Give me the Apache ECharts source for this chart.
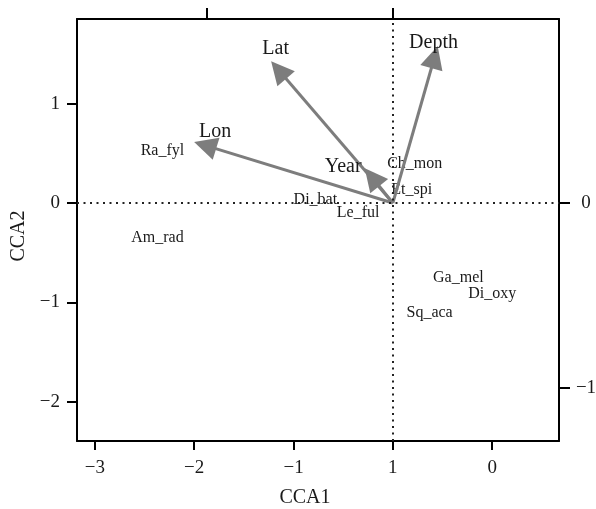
<!DOCTYPE html>
<html>
<head>
<meta charset="utf-8">
<script src="https://cdn.jsdelivr.net/npm/echarts@6/dist/echarts.min.js"></script>
<style>
  html, body { margin: 0; padding: 0; background: #fff; }
  #cca-chart { width: 596px; height: 509px; }
</style>
</head>
<body>
<div id="cca-chart"></div>
<script>
// species scores (CCA1, CCA2)
var speciesNames = ['Ra_fyl', 'Am_rad', 'Di_bat', 'Le_ful', 'Ch_mon', 'Et_spi', 'Ga_mel', 'Di_oxy', 'Sq_aca'];
var speciesX = [-2.32, -2.37, -0.78, -0.35, 0.22, 0.19, 0.66, 1.00, 0.37];
var speciesY = [0.53, -0.35, 0.03, -0.10, 0.39, 0.13, -0.75, -0.91, -1.11];

// environmental arrows (tips) and their label positions
var varNames = ['Lat', 'Depth', 'Lon', 'Year'];
var varX = [-1.15, 0.42, -1.89, -0.21];
var varY = [1.34, 1.47, 0.58, 0.26];
var varLabelX = [-1.18, 0.41, -1.79, -0.50];
var varLabelY = [1.55, 1.61, 0.72, 0.37];

// tick labels as printed
var xTicks = [-3, -2, -1, 0, 1];
var xTickLabels = ['\u22123', '\u22122', '\u22121', '1', '0'];
var yTicks = [-2, -1, 0, 1];
var topTicks = [-1, 0];
var rightTicks = [-1, 0];

var serif = 'Liberation Serif';
var ink = '#1a1a1a';
var myChart = echarts.init(document.getElementById('cca-chart'));

var speciesData = speciesNames.map(function (n, i) { return [speciesX[i], speciesY[i], n]; });
var varLabelData = varNames.map(function (n, i) { return [varLabelX[i], varLabelY[i], n]; });
var arrowData = varNames.map(function (n, i) { return { coords: [[0, 0], [varX[i], varY[i]]] }; });

function minus(v) { return v < 0 ? '\u2212' + Math.abs(v) : '' + v; }

myChart.setOption({
    animation: false,
    backgroundColor: '#fff',
    grid: { left: 77, top: 19, right: 37, bottom: 68, containLabel: false, outerBoundsMode: 'none' },
    xAxis: [
        {
            type: 'value', position: 'bottom', min: -3.18, max: 1.673,
            name: 'CCA1', nameLocation: 'middle', nameGap: 47,
            nameTextStyle: { fontFamily: serif, fontSize: 20, color: ink, padding: [0, 26, 0, 0] },
            axisLine: { show: true, onZero: false, lineStyle: { color: '#000', width: 2 } },
            axisTick: { show: true, length: 9, customValues: xTicks, lineStyle: { color: '#000', width: 2 } },
            axisLabel: {
                customValues: xTicks, margin: 18, fontFamily: serif, fontSize: 19, color: ink,
                formatter: function (v) { return xTickLabels[xTicks.indexOf(Math.round(v))]; }
            },
            splitLine: { show: false }
        },
        {
            type: 'value', position: 'top', min: -1.699, max: 0.892,
            axisLine: { show: true, onZero: false, lineStyle: { color: '#000', width: 2 } },
            axisTick: { show: true, length: 11, customValues: topTicks, lineStyle: { color: '#000', width: 2 } },
            axisLabel: { show: false },
            splitLine: { show: false }
        }
    ],
    yAxis: [
        {
            type: 'value', position: 'left', min: -2.397, max: 1.853,
            name: 'CCA2', nameLocation: 'middle', nameGap: 48, nameRotate: 90,
            nameTextStyle: { fontFamily: serif, fontSize: 20, color: ink, padding: [0, 12, 0, 0] },
            axisLine: { show: true, onZero: false, lineStyle: { color: '#000', width: 2 } },
            axisTick: { show: true, length: 10, customValues: yTicks, lineStyle: { color: '#000', width: 2 } },
            axisLabel: { customValues: yTicks, margin: 17, fontFamily: serif, fontSize: 19, color: ink, formatter: minus },
            splitLine: { show: false }
        },
        {
            type: 'value', position: 'right', min: -1.286, max: 0.995,
            axisLine: { show: true, onZero: false, lineStyle: { color: '#000', width: 2 } },
            axisTick: { show: true, length: 11, customValues: rightTicks, lineStyle: { color: '#000', width: 2 } },
            axisLabel: {
                customValues: rightTicks, margin: 27, align: 'center',
                fontFamily: serif, fontSize: 19, color: ink, formatter: minus
            },
            splitLine: { show: false }
        }
    ],
    series: [
        {
            // species scores written as text
            type: 'scatter', xAxisIndex: 0, yAxisIndex: 0,
            data: speciesData, symbolSize: 1, itemStyle: { color: '#fff', opacity: 1 },
            label: {
                show: true, position: 'inside', fontFamily: serif, fontSize: 16, color: ink,
                textBorderWidth: 0, opacity: 1,
                formatter: function (p) { return p.data[2]; }
            },
            markLine: {
                silent: true, symbol: 'none', label: { show: false },
                lineStyle: { color: '#222', type: [2, 4.5], width: 2 },
                data: [{ xAxis: 0 }, { yAxis: 0 }]
            },
            z: 3
        },
        {
            type: 'lines', coordinateSystem: 'cartesian2d', xAxisIndex: 0, yAxisIndex: 0,
            data: arrowData,
            symbol: ['none', 'triangle'], symbolSize: 23,
            lineStyle: { color: '#7d7d7d', width: 3, opacity: 1 },
            itemStyle: { color: '#727272' },
            z: 4
        },
        {
            type: 'scatter', xAxisIndex: 0, yAxisIndex: 0,
            data: varLabelData, symbolSize: 1, itemStyle: { color: '#fff', opacity: 1 },
            label: {
                show: true, position: 'inside', fontFamily: serif, fontSize: 20, color: ink,
                textBorderWidth: 0, opacity: 1,
                formatter: function (p) { return p.data[2]; }
            },
            z: 5
        }
    ]
});
</script>
</body>
</html>
